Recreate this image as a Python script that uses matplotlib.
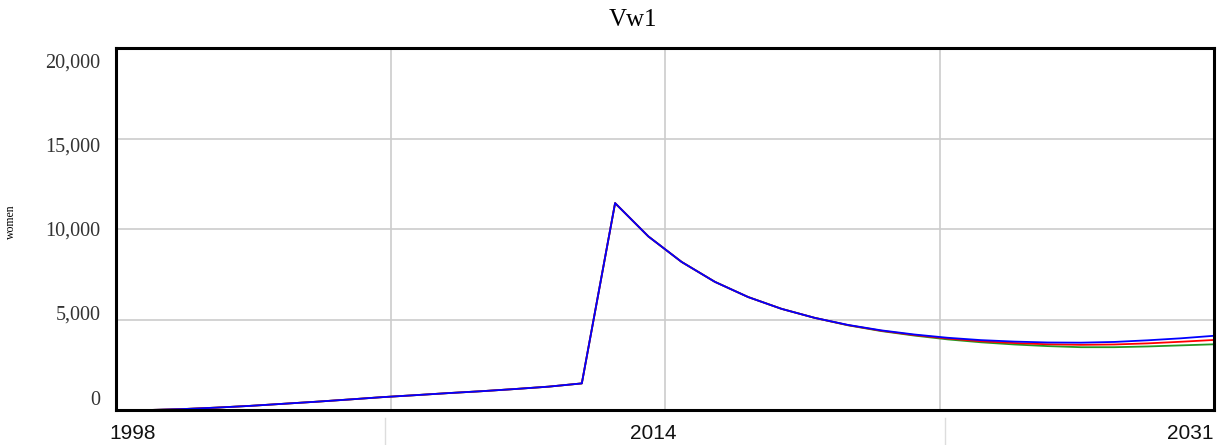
import numpy as np
import matplotlib
matplotlib.use("Agg")
import matplotlib.pyplot as plt
import matplotlib.transforms as mtransforms
from matplotlib.lines import Line2D

# yearly values (women)
years = list(range(1998, 2032))
vw1_blue = [0, 0, 50, 130, 225, 340, 455, 580, 710, 820, 935, 1040, 1160, 1290, 1470,
            11430, 9590, 8180, 7080, 6240, 5590, 5090, 4700, 4400, 4170, 3990, 3860,
            3780, 3730, 3720, 3760, 3850, 3960, 4100]
vw1_red = [0, 0, 50, 130, 225, 340, 455, 580, 710, 820, 935, 1040, 1160, 1290, 1470,
           11430, 9590, 8180, 7080, 6240, 5590, 5090, 4690, 4380, 4140, 3950, 3800,
           3700, 3630, 3600, 3620, 3680, 3770, 3870]
vw1_green = [0, 0, 50, 130, 225, 340, 455, 580, 710, 820, 935, 1040, 1160, 1290, 1470,
             11430, 9590, 8180, 7080, 6240, 5590, 5090, 4680, 4360, 4110, 3900, 3740,
             3620, 3530, 3470, 3470, 3510, 3570, 3630]

y_ticks = [0, 5000, 10000, 15000, 20000]
y_labels = ["0", "5,000", "10,000", "15,000", "20,000"]
x_ticks = [1998, 2014, 2031]
x_labels = ["1998", "2014", "2031"]
x_grid = [2006.25, 2014.5, 2022.75]

fig = plt.figure(figsize=(12.21, 4.45), dpi=100)
ax = fig.add_axes([116/1221, 1-410/445, 1098/1221, 362/445])

ax.plot(years, vw1_green, color="#229922", lw=1.3)
ax.plot(years, vw1_red, color="#ff0000", lw=1.3)
ax.plot(years, vw1_blue, color="#0000ff", lw=1.3)

ax.set_xlim(1998, 2031)
ax.set_ylim(0, 20000)

# vertical grid
for g in x_grid:
    ax.axvline(g, color="#cccccc", lw=1.2, zorder=0)
ax.set_yticks(y_ticks)
ax.yaxis.grid(True, color="#cccccc", lw=1.2)
ax.set_axisbelow(True)

ax.set_yticklabels(y_labels, family="Liberation Serif", fontsize=14.5, color="#333333")
ax.tick_params(axis="y", length=0, pad=11)
# labels sit a little inside the grid lines, like the original
shifts = [12, 7, 0, -6, -13]
for lab, dy in zip(ax.get_yticklabels(), shifts):
    lab.set_transform(lab.get_transform() + mtransforms.ScaledTranslation(0, dy/100, fig.dpi_scale_trans))

ax.set_xticks(x_ticks)
ax.set_xticklabels(x_labels, family="Liberation Sans", fontsize=15, color="#111111")
ax.tick_params(axis="x", length=0, pad=10)
xl = ax.get_xticklabels()
xl[0].set_ha("left")
xl[2].set_ha("right")
for lab, dx in zip(xl, [-7, 5, 0]):
    lab.set_transform(lab.get_transform() + mtransforms.ScaledTranslation(dx/100, 0, fig.dpi_scale_trans))

for s in ax.spines.values():
    s.set_linewidth(2.2)
    s.set_color("black")

ax.set_ylabel("women", family="Liberation Serif", fontsize=8.5)
ax.yaxis.set_label_coords(-99/1098, (410-222)/362)

fig.text(633/1221, 1-20/445, "Vw1", family="Liberation Serif", fontsize=18,
         ha="center", va="center")

# faint separators in the label strip
for xp in [385, 945]:
    fig.add_artist(Line2D([xp/1221, xp/1221], [0, 1-418/445], color="#dddddd", lw=1))

fig.savefig("out.png", dpi=100)
